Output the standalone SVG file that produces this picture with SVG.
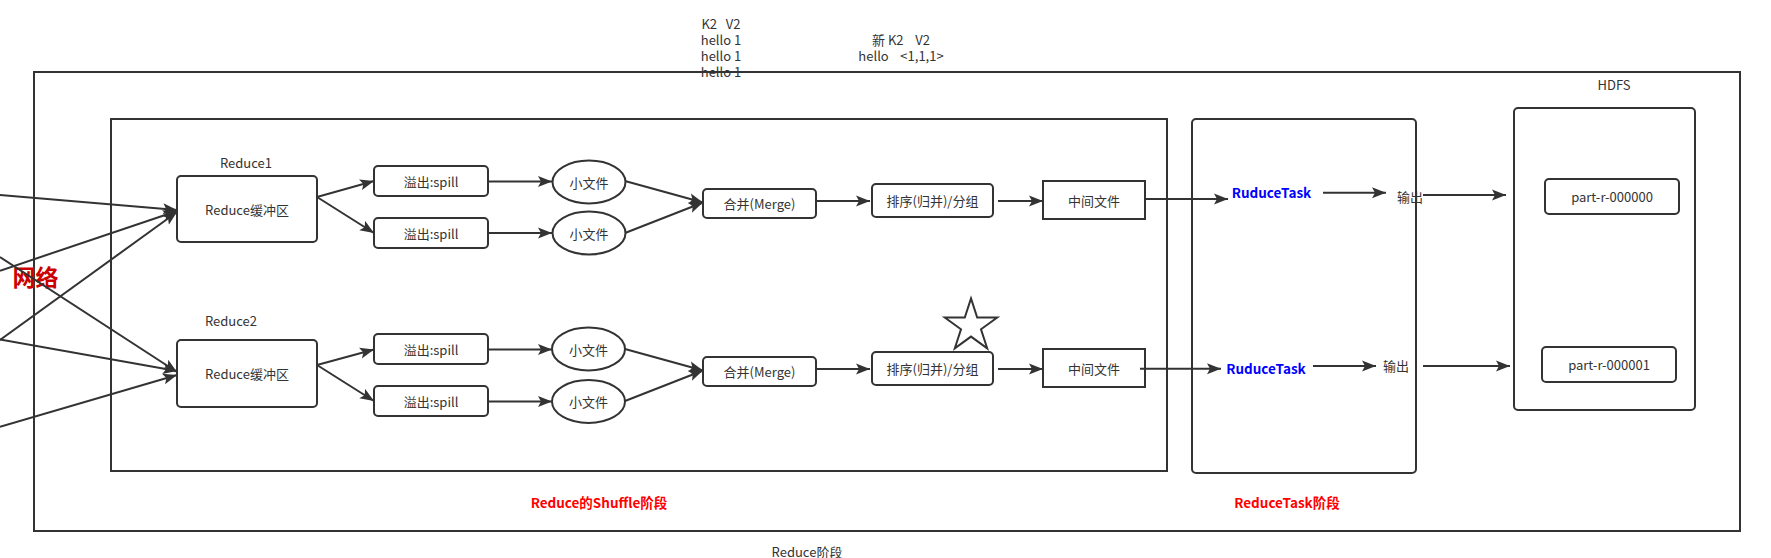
<svg xmlns="http://www.w3.org/2000/svg" width="1771" height="558" viewBox="0 0 1771 558">
<style>
  text { font-family: "Noto Sans CJK SC", "Noto Sans", sans-serif; font-size: 13px; fill: #333333; }
  .c { text-anchor: middle; dominant-baseline: central; }
  .box { fill: #ffffff; stroke: #333333; stroke-width: 2; }
  .frame { fill: none; stroke: #333333; stroke-width: 2; }
  .line { fill: none; stroke: #333333; stroke-width: 2; }
  .arr { fill: none; stroke: #333333; stroke-width: 2; marker-end: url(#ah); }
  .red { fill: #ff0000; font-weight: bold; font-size: 13.5px; }
  .blue { fill: #0000ff; font-weight: bold; font-size: 13.5px; }
</style>
<defs>
  <marker id="ah" markerUnits="userSpaceOnUse" markerWidth="16" markerHeight="12" refX="14" refY="6" orient="auto">
    <path d="M0,0.5 L14,6 L0,11.5 L3,6 Z" fill="#333333"/>
  </marker>
</defs>
<rect width="1771" height="558" fill="#ffffff"/>

<g id="outer-frame">
  <rect class="frame" x="34" y="72" width="1706" height="459"/>
  <text class="c" x="807" y="551.5">Reduce阶段</text>
</g>
<g id="shuffle-frame">
  <rect class="frame" x="111" y="119" width="1056" height="352"/>
  <text class="c red" x="599" y="501.5">Reduce的Shuffle阶段</text>
</g>
<g id="reducetask-frame">
  <rect class="box" x="1192" y="119" width="224" height="354" rx="4"/>
  <text class="c red" x="1287" y="501.5">ReduceTask阶段</text>
</g>
<g id="hdfs">
  <text class="c" x="1614" y="84">HDFS</text>
  <rect class="box" x="1514" y="108" width="181" height="302" rx="4"/>
</g>
<g id="part0">
  <rect class="box" x="1545" y="179" width="134" height="35" rx="4"/>
  <text class="c" x="1612" y="196.5">part-r-000000</text>
</g>
<g id="part1">
  <rect class="box" x="1542" y="347" width="134" height="35" rx="4"/>
  <text class="c" x="1609" y="364.5">part-r-000001</text>
</g>

<g id="kv-text">
  <text class="c" x="721" y="23" xml:space="preserve">K2   V2</text>
  <text class="c" x="721" y="39">hello 1</text>
  <text class="c" x="721" y="55">hello 1</text>
  <text class="c" x="721" y="71">hello 1</text>
  <text class="c" x="901" y="39" xml:space="preserve">新 K2    V2</text>
  <text class="c" x="901" y="55" xml:space="preserve">hello    &lt;1,1,1&gt;</text>
</g>

<g id="network-label">
  <text class="c" x="35.5" y="276" style="fill:#cc0000;font-weight:bold;font-size:23px">网络</text>
</g>

<g id="reduce1">
  <text class="c" x="246" y="162">Reduce1</text>
  <rect class="box" x="177" y="176" width="140" height="66" rx="4"/>
  <text class="c" x="247" y="209">Reduce缓冲区</text>
</g>
<g id="reduce2">
  <text class="c" x="231" y="320">Reduce2</text>
  <rect class="box" x="177" y="340" width="140" height="67" rx="4"/>
  <text class="c" x="247" y="373.5">Reduce缓冲区</text>
</g>

<g id="spill1a"><rect class="box" x="374" y="166" width="114" height="30" rx="4"/><text class="c" x="431" y="181">溢出:spill</text></g>
<g id="spill1b"><rect class="box" x="374" y="218" width="114" height="30" rx="4"/><text class="c" x="431" y="233">溢出:spill</text></g>
<g id="spill2a"><rect class="box" x="374" y="334" width="114" height="30" rx="4"/><text class="c" x="431" y="349">溢出:spill</text></g>
<g id="spill2b"><rect class="box" x="374" y="386" width="114" height="30" rx="4"/><text class="c" x="431" y="401">溢出:spill</text></g>

<g id="file1a"><ellipse class="box" cx="589" cy="182" rx="36.5" ry="21.5"/><text class="c" x="589" y="182">小文件</text></g>
<g id="file1b"><ellipse class="box" cx="589" cy="233" rx="36.5" ry="21.5"/><text class="c" x="589" y="233">小文件</text></g>
<g id="file2a"><ellipse class="box" cx="588.5" cy="349" rx="36.5" ry="21.5"/><text class="c" x="588.5" y="349">小文件</text></g>
<g id="file2b"><ellipse class="box" cx="588.5" cy="401.5" rx="36.5" ry="21.5"/><text class="c" x="588.5" y="401.5">小文件</text></g>

<g id="merge1"><rect class="box" x="703" y="189" width="113" height="29" rx="4"/><text class="c" x="759.5" y="203.5">合并(Merge)</text></g>
<g id="merge2"><rect class="box" x="703" y="357" width="113" height="29" rx="4"/><text class="c" x="759.5" y="371.5">合并(Merge)</text></g>

<g id="sort1"><rect class="box" x="872" y="184" width="121" height="33" rx="4"/><text class="c" x="932.5" y="200.5">排序(归并)/分组</text></g>
<g id="sort2"><rect class="box" x="872" y="352" width="121" height="33" rx="4"/><text class="c" x="932.5" y="368.5">排序(归并)/分组</text></g>

<g id="star">
  <polygon points="971,298.4 977.2,317.5 997.2,317.5 981,329.3 987.2,348.3 971,336.6 954.8,348.3 961,329.3 944.8,317.5 964.8,317.5" fill="#ffffff" stroke="#333333" stroke-width="2"/>
</g>

<g id="mid1"><rect class="box" x="1043" y="181" width="102" height="38"/><text class="c" x="1094" y="200">中间文件</text></g>
<g id="mid2"><rect class="box" x="1043" y="349" width="102" height="38"/><text class="c" x="1094" y="368">中间文件</text></g>

<g id="connectors">
  <line class="arr" x1="0" y1="195" x2="177" y2="210"/>
  <line class="arr" x1="0" y1="270.7" x2="177" y2="211"/>
  <line class="arr" x1="0" y1="340" x2="177" y2="212"/>
  <line class="arr" x1="0" y1="257" x2="177" y2="372"/>
  <line class="arr" x1="0" y1="339.5" x2="177" y2="371"/>
  <line class="arr" x1="0" y1="426.7" x2="177" y2="375"/>

  <line class="arr" x1="317" y1="197" x2="374" y2="181"/>
  <line class="arr" x1="317" y1="197" x2="374" y2="233"/>
  <line class="arr" x1="317" y1="365" x2="374" y2="349.5"/>
  <line class="arr" x1="317" y1="365" x2="374" y2="401"/>

  <line class="arr" x1="488" y1="181.5" x2="552" y2="181.5"/>
  <line class="arr" x1="488" y1="233" x2="552" y2="233"/>
  <line class="arr" x1="488" y1="349.5" x2="552" y2="349.5"/>
  <line class="arr" x1="488" y1="401.5" x2="552" y2="401.5"/>

  <line class="arr" x1="625" y1="181" x2="703" y2="202.5"/>
  <line class="arr" x1="625" y1="233" x2="703" y2="202.5"/>
  <line class="arr" x1="625" y1="349" x2="703" y2="370.5"/>
  <line class="arr" x1="625" y1="401" x2="703" y2="370.5"/>

  <line class="arr" x1="816" y1="201" x2="870" y2="201"/>
  <line class="arr" x1="816" y1="369" x2="870" y2="369"/>

  <line class="arr" x1="998" y1="201" x2="1043" y2="201"/>
  <line class="arr" x1="998" y1="369" x2="1043" y2="369"/>

  <line class="arr" x1="1145" y1="199" x2="1228" y2="199"/>
  <line class="arr" x1="1140" y1="368.7" x2="1221" y2="368.7"/>

  <line class="arr" x1="1323" y1="192.7" x2="1386" y2="192.7"/>
  <line class="arr" x1="1313" y1="366" x2="1376" y2="366"/>

  <line class="arr" x1="1423" y1="195" x2="1506" y2="195"/>
  <line class="arr" x1="1423" y1="366" x2="1510" y2="366"/>
</g>

<g id="task-labels">
  <text class="c blue" x="1271.5" y="192.3">RuduceTask</text>
  <text class="c blue" x="1266" y="368.3">RuduceTask</text>
  <text class="c" x="1410" y="196.7">输出</text>
  <text class="c" x="1396" y="365">输出</text>
</g>
</svg>
